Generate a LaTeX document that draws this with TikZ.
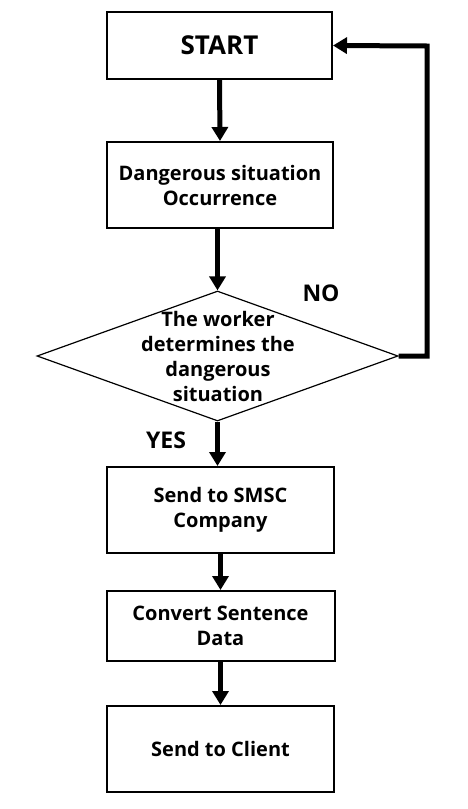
\documentclass[tikz,border=0pt]{standalone}
\usepackage{fontspec}
\setmainfont{Open Sans}
\usetikzlibrary{shapes.geometric,arrows.meta}

\begin{document}
\begin{tikzpicture}[x=1pt, y=-1pt,
    stepbox/.style={draw, line width=2pt, inner sep=0pt, align=center,
        font=\bfseries\fontsize{20}{25}\selectfont},
    flow/.style={line width=5pt, -{Triangle[length=14pt,width=16pt]}},
    tag/.style={font=\bfseries\fontsize{23}{25}\selectfont}]

    % Fix the page to the size of the reference
    \useasboundingbox (0,0) rectangle (468,809);

    % Process boxes, top to bottom
    \node[stepbox, minimum width=225pt, minimum height=67pt,
          font=\bfseries\fontsize{26}{28}\selectfont] (start) at (219.5,45.5) {START};
    \node[stepbox, minimum width=226pt, minimum height=86pt] (danger) at (220,185)
        {Dangerous situation\\Occurrence};

    % Decision diamond, text set on top of it
    \node[draw, shape=diamond, line width=1.2pt, inner sep=0pt,
          minimum width=361pt, minimum height=130pt] (dec) at (217.5,356) {};
    \node[align=center, font=\bfseries\fontsize{20}{25}\selectfont] (dectext) at (218,356)
        {The worker\\determines the\\dangerous\\situation};

    \node[stepbox, minimum width=227pt, minimum height=86pt] (smsc) at (220.5,510)
        {Send to SMSC\\Company};
    \node[stepbox, minimum width=228pt, minimum height=70pt] (convert) at (220.5,626)
        {Convert Sentence\\Data};
    \node[stepbox, minimum width=227pt, minimum height=86pt] (client) at (220.5,749)
        {Send to Client};

    % Branch labels
    \node[tag] (no) at (321,293) {NO};
    \node[tag] (yes) at (166,440) {YES};

    % Connectors
    \coordinate (loop) at (427,46);
    \draw[flow] (start.south) -- (danger.north);
    \draw[flow] (dec.north |- danger.south) -- (dec.north);
    \draw[flow] (dec.south) -- (dec.south |- smsc.north);
    \draw[flow] (smsc.south) -- (convert.north);
    \draw[flow] (convert.south) -- (client.north);

    % NO goes back to START
    \draw[flow, line join=miter] (dec.east) -| (loop) -- (start.east);

\end{tikzpicture}
\end{document}
